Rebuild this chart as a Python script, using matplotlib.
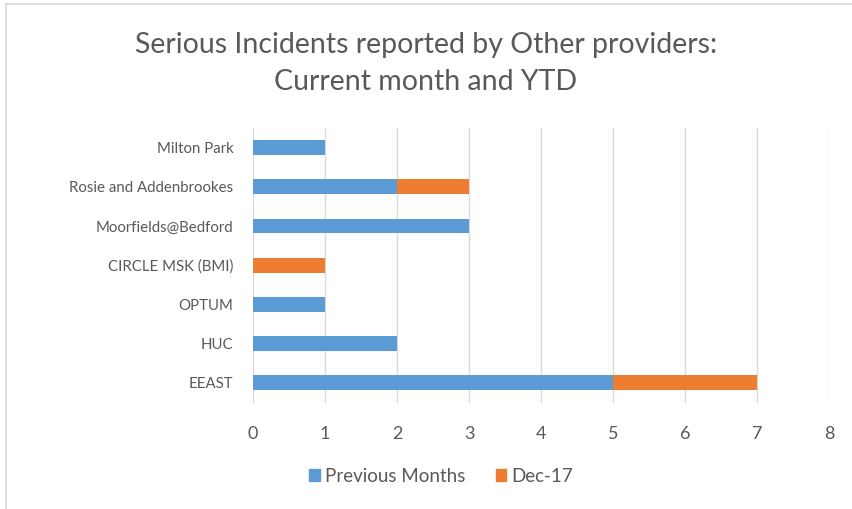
import matplotlib.pyplot as plt
import matplotlib.patches as mpatches
import numpy as np

categories = ["Milton Park", "Rosie and Addenbrookes", "Moorfields@Bedford",
              "CIRCLE MSK (BMI)", "OPTUM", "HUC", "EEAST"]
previous_months = [1, 2, 3, 0, 1, 2, 5]
dec17 = [0, 1, 0, 1, 0, 0, 2]
series_names = ["Previous Months", "Dec-17"]
xticks = [0, 1, 2, 3, 4, 5, 6, 7, 8]

plt.rcParams['font.family'] = ['Lato', 'DejaVu Sans']
txt = '#595959'
blue = '#5B9BD5'
orange = '#ED7D31'

fig = plt.figure(figsize=(8.52, 5.09), dpi=100)
ax = fig.add_axes([253/852, 1-402.5/509, (829-253)/852, (402.5-128)/509])

y = np.arange(len(categories))
h = 0.38
ax.barh(y, previous_months, height=h, color=blue, label=series_names[0], zorder=3)
ax.barh(y, dec17, left=previous_months, height=h, color=orange, label=series_names[1], zorder=3)

ax.set_xlim(0, 8)
ax.set_ylim(len(categories)-0.5, -0.5)
ax.set_xticks(xticks)
ax.set_yticks(y)
ax.set_yticklabels(categories, fontsize=10.8, color=txt)
ax.tick_params(axis='x', length=0, labelsize=13, labelcolor=txt, pad=17)
ax.tick_params(axis='y', length=0, pad=14)
ax.grid(axis='x', color='#D9D9D9', linewidth=1, zorder=0)
for s in ax.spines.values():
    s.set_visible(False)

fig.text(0.5, 1-45/509, "Serious Incidents reported by Other providers:", ha='center', va='center',
         fontsize=20.5, color=txt)
fig.text(0.5, 1-82/509, "Current month and YTD", ha='center', va='center',
         fontsize=20.5, color=txt)

handles = [mpatches.Patch(color=blue, label=series_names[0]),
           mpatches.Patch(color=orange, label=series_names[1])]
fig.legend(handles=handles, loc='center', bbox_to_anchor=(0.518, 1-476/509), ncol=2,
           frameon=False, fontsize=13.5, labelcolor=txt, handlelength=0.55, handleheight=0.55,
           handletextpad=0.3, columnspacing=1.6)

# chart border (left and top visible)
fig.add_artist(plt.Line2D([6/852, 6/852], [0, 1-4/509], color='#D9D9D9', lw=1.2, transform=fig.transFigure))
fig.add_artist(plt.Line2D([6/852, 1], [1-4/509, 1-4/509], color='#D9D9D9', lw=1.2, transform=fig.transFigure))

fig.savefig('out.png', dpi=100)
